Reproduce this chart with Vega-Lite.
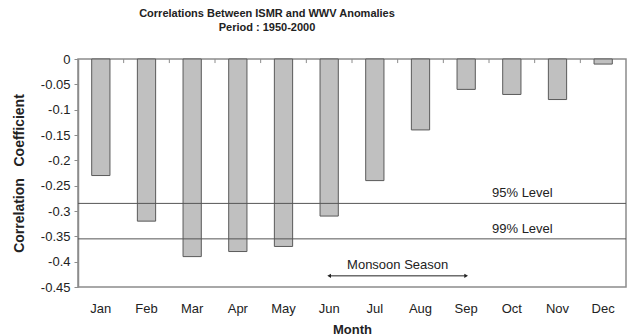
{
  "$schema": "https://vega.github.io/schema/vega-lite/v6.json",
  "width": 548,
  "height": 228,
  "autosize": "none",
  "padding": {"left": 78, "top": 59, "right": 1, "bottom": 49},
  "config": {
    "font": "Liberation Sans",
    "view": {"stroke": "#8c8c8c", "strokeWidth": 1.5},
    "axis": {"labelColor": "#222", "titleColor": "#222", "domainColor": "#8c8c8c", "tickColor": "#8c8c8c", "grid": false, "labelFontSize": 13, "titleFontSize": 13, "titleFontWeight": "bold"},
    "axisY": {"labelOverlap": false, "labelBound": false, "labelFlush": false}
  },
  "title": {
    "text": ["Correlations Between ISMR and WWV Anomalies", "Period : 1950-2000"],
    "fontSize": 11,
    "fontWeight": "bold",
    "color": "#222",
    "lineHeight": 14,
    "dx": -85,
    "offset": 20
  },
  "layer": [
    {
      "data": {"values": [
        {"month": "Jan", "value": -0.23},
        {"month": "Feb", "value": -0.32},
        {"month": "Mar", "value": -0.39},
        {"month": "Apr", "value": -0.38},
        {"month": "May", "value": -0.37},
        {"month": "Jun", "value": -0.31},
        {"month": "Jul", "value": -0.24},
        {"month": "Aug", "value": -0.14},
        {"month": "Sep", "value": -0.06},
        {"month": "Oct", "value": -0.07},
        {"month": "Nov", "value": -0.08},
        {"month": "Dec", "value": -0.01}
      ]},
      "mark": {"type": "bar", "width": {"band": 0.4}, "fill": "#c0c0c0", "stroke": "#5a5a5a", "strokeWidth": 1},
      "encoding": {
        "x": {"field": "month", "type": "nominal", "scale": {"domain": ["Jan","Feb","Mar","Apr","May","Jun","Jul","Aug","Sep","Oct","Nov","Dec"], "paddingInner": 0, "paddingOuter": 0}, "axis": {"orient": "bottom", "title": "Month", "labelAngle": 0, "domain": false, "ticks": false, "labelPadding": 15, "titlePadding": 8}},
        "y": {"field": "value", "type": "quantitative", "scale": {"domain": [-0.45, 0], "nice": false, "zero": false}, "axis": {"title": "Correlation\u00a0\u00a0\u00a0Coefficient", "titleFontSize": 14, "tickCount": 10, "labelExpr": "datum.value == 0 ? '0' : '-' + replace(format(-datum.value, '.2f'), /0$/, '')", "labelOverlap": false, "tickSize": 4, "labelPadding": 4, "titlePadding": 14, "domainWidth": 1.5}},
        "y2": {"datum": 0}
      }
    },
    {
      "data": {"values": [
        {"month": "Feb"}, {"month": "Mar"}, {"month": "Apr"}, {"month": "May"}, {"month": "Jun"}, {"month": "Jul"},
        {"month": "Aug"}, {"month": "Sep"}, {"month": "Oct"}, {"month": "Nov"}, {"month": "Dec"}
      ]},
      "mark": {"type": "rule", "color": "#8c8c8c", "strokeWidth": 1},
      "encoding": {
        "x": {"field": "month", "type": "nominal", "bandPosition": 0},
        "y": {"datum": 0, "type": "quantitative"},
        "y2": {"datum": -0.008}
      }
    },
    {
      "data": {"values": [
        {"label": "95% Level", "value": -0.285, "month": "Oct"},
        {"label": "99% Level", "value": -0.355, "month": "Oct"}
      ]},
      "layer": [
        {
          "mark": {"type": "rule", "color": "#555", "strokeWidth": 1},
          "encoding": {"y": {"field": "value", "type": "quantitative"}}
        },
        {
          "mark": {"type": "text", "align": "left", "baseline": "bottom", "dx": 3, "dy": -3, "fontSize": 13, "color": "#222"},
          "encoding": {"x": {"field": "month", "type": "nominal", "bandPosition": 0}, "y": {"field": "value", "type": "quantitative"}, "text": {"field": "label"}}
        }
      ]
    },
    {
      "data": {"values": [
        {"month": "Jun", "value": -0.428}
      ]},
      "layer": [
        {
          "mark": {"type": "rule", "color": "#222", "strokeWidth": 1},
          "encoding": {"x": {"field": "month", "type": "nominal"}, "x2": {"datum": "Sep"}, "y": {"field": "value", "type": "quantitative"}}
        },
        {
          "mark": {"type": "point", "shape": "triangle-left", "filled": true, "size": 18, "color": "#222", "opacity": 1},
          "encoding": {"x": {"field": "month", "type": "nominal"}, "y": {"field": "value", "type": "quantitative"}}
        }
      ]
    },
    {
      "data": {"values": [
        {"month": "Sep", "value": -0.428}
      ]},
      "mark": {"type": "point", "shape": "triangle-right", "filled": true, "size": 18, "color": "#222", "opacity": 1},
      "encoding": {"x": {"field": "month", "type": "nominal"}, "y": {"field": "value", "type": "quantitative"}}
    },
    {
      "data": {"values": [
        {"month": "Aug", "value": -0.428, "label": "Monsoon Season"}
      ]},
      "mark": {"type": "text", "align": "center", "baseline": "bottom", "dy": -4, "fontSize": 13, "color": "#222"},
      "encoding": {"x": {"field": "month", "type": "nominal", "bandPosition": 0}, "y": {"field": "value", "type": "quantitative"}, "text": {"field": "label"}}
    }
  ]
}
